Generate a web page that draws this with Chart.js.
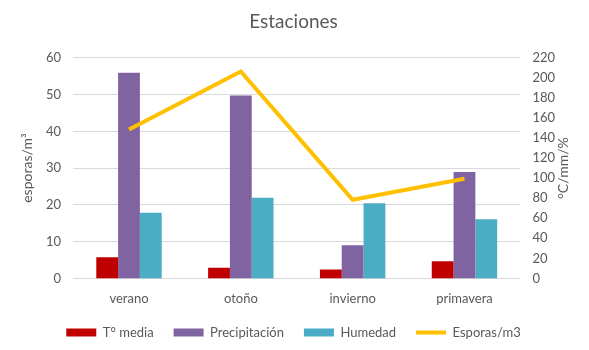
<!DOCTYPE html>
<html>
<head>
<meta charset="utf-8">
<script src="https://cdn.jsdelivr.net/npm/chart.js@4.4.0/dist/chart.umd.min.js"></script>
<style>
  html, body { margin: 0; padding: 0; background: #fff; }
  #wrap { width: 589px; height: 350px; }
</style>
</head>
<body>
<div id="wrap"><canvas id="chart" width="589" height="350"></canvas></div>
<script>
  // Seasons.
  var estaciones = ['verano', 'otoño', 'invierno', 'primavera'];

  // Series on the right axis (°C/mm/%).
  var temperatura = [21, 10.7, 9, 17];
  var precipitacion = [205, 182.5, 33, 106];
  var humedad = [65.5, 80.5, 75, 59];

  // Series on the left axis (esporas/m3).
  var esporas = [40.5, 56.3, 21.4, 27.1];

  var gris = '#595959';
  var fuente = 'Lato, "Noto Sans", sans-serif';

  // Right axis title reads bottom to top, like the left one.
  var tituloDerecho = {
    id: 'tituloDerecho',
    afterDraw: function (chart) {
      var s = chart.scales.y1;
      var ctx = chart.ctx;
      ctx.save();
      ctx.translate(s.right - 4, (s.top + s.bottom) / 2);
      ctx.rotate(-Math.PI / 2);
      ctx.font = '14px ' + fuente;
      ctx.fillStyle = gris;
      ctx.textAlign = 'center';
      ctx.textBaseline = 'middle';
      ctx.fillText('°C/mm/%', 0, 0);
      ctx.restore();
    }
  };

  new Chart(document.getElementById('chart'), {
    data: {
      labels: estaciones,
      datasets: [
        {
          type: 'line',
          label: 'Esporas/m3',
          data: esporas,
          yAxisID: 'y',
          borderColor: '#FFC000',
          backgroundColor: '#FFC000',
          borderWidth: 4,
          pointRadius: 0,
          pointStyle: 'line',
          order: 0
        },
        {
          type: 'bar',
          label: 'T° media',
          data: temperatura,
          yAxisID: 'y1',
          backgroundColor: '#C00000',
          pointStyle: 'rect',
          order: 1
        },
        {
          type: 'bar',
          label: 'Precipitación',
          data: precipitacion,
          yAxisID: 'y1',
          backgroundColor: '#8064A2',
          pointStyle: 'rect',
          order: 1
        },
        {
          type: 'bar',
          label: 'Humedad',
          data: humedad,
          yAxisID: 'y1',
          backgroundColor: '#4BACC6',
          pointStyle: 'rect',
          order: 1
        }
      ]
    },
    options: {
      responsive: false,
      animation: false,
      layout: { padding: { left: 20, right: 22, top: 0, bottom: 1 } },
      datasets: {
        bar: { categoryPercentage: 0.585, barPercentage: 1 }
      },
      plugins: {
        title: {
          display: true,
          text: 'Estaciones',
          color: gris,
          font: { family: fuente, size: 19, weight: 'normal' },
          padding: { top: 10, bottom: 25 }
        },
        legend: {
          position: 'bottom',
          labels: {
            usePointStyle: true,
            pointStyleWidth: 30,
            boxHeight: 8,
            padding: 20,
            color: gris,
            font: { family: fuente, size: 13 },
            // Line series goes last, as in the reference.
            sort: function (a, b) {
              return (a.datasetIndex === 0 ? 9 : a.datasetIndex) - (b.datasetIndex === 0 ? 9 : b.datasetIndex);
            }
          }
        },
        tooltip: { enabled: false }
      },
      scales: {
        x: {
          grid: { display: false },
          border: { display: false },
          ticks: { color: gris, font: { family: fuente, size: 13 }, padding: 5 },
          // Let the labels hang a little into the legend's top padding.
          afterFit: function (scale) {
            scale.height -= 6;
          }
        },
        y: {
          position: 'left',
          min: 0,
          max: 60,
          ticks: { stepSize: 10, color: gris, font: { family: fuente, size: 13 }, padding: 12 },
          grid: { color: '#D9D9D9', drawTicks: false },
          border: { display: false },
          title: {
            display: true,
            text: 'esporas/m³',
            color: gris,
            font: { family: fuente, size: 14, lineHeight: 1 },
            padding: 0
          }
        },
        y1: {
          position: 'right',
          min: 0,
          max: 220,
          ticks: { stepSize: 20, color: gris, font: { family: fuente, size: 13 }, padding: 12 },
          grid: { display: false, drawTicks: false },
          border: { display: false }
        }
      }
    },
    plugins: [tituloDerecho]
  });
</script>
</body>
</html>
